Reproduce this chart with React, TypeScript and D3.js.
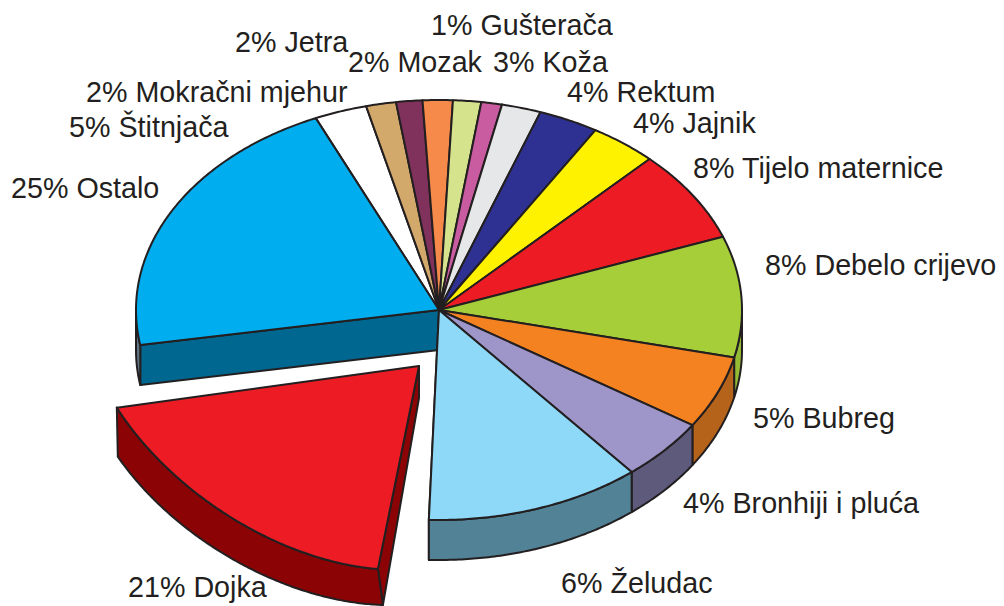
import React from 'react';
import * as d3 from 'd3';

// label texts as printed next to the pie
const categories = ['Ostalo', 'Štitnjača', 'Mokračni mjehur', 'Jetra', 'Mozak', 'Gušterača', 'Koža', 'Rektum',
  'Jajnik', 'Tijelo maternice', 'Debelo crijevo', 'Bubreg', 'Bronhiji i pluća', 'Želudac', 'Dojka'];
const labelPercents = [25, 5, 2, 2, 2, 1, 3, 4, 4, 8, 8, 5, 4, 6, 21];

// slice sizes as drawn (clockwise from the white slice next to Ostalo)
const sliceShares = [2.8, 1.6, 1.4, 1.6, 1.5, 1.1, 2.1, 3.2, 3.6, 7.1, 9.3, 5.6, 4.8, 11.5, 21.8, 21.0];
const sliceColors = ['#ffffff', '#d3a96b', '#80325c', '#f58a4b', '#d5e38d', '#c95ba1', '#e6e7e8', '#2e3192',
  '#fff200', '#ed1c24', '#a6ce39', '#f58220', '#9e96c9', '#8ed8f8', '#ed1c24', '#00aeef'];
const sideColors = ['#cccccc', '#a8844f', '#5e2242', '#c46a35', '#aab86c', '#9c4580', '#b8b9ba', '#1f2170',
  '#c9be00', '#a3141a', '#94bb33', '#b5621a', '#5e5a7c', '#528296', '#8b0304', '#5f7585'];
const explodedIndex = 14;
const cutFaceColor = '#006890';

// layout
const labelAnchors: [number, number][] = [[11, 198], [69, 137], [86, 102], [235, 52], [348, 72], [431, 35], [493, 72],
  [567, 102], [633, 133], [693, 178], [765, 275], [753, 428], [683, 513], [561, 593], [128, 597]];
const W = 1004, H = 606;
const cx = 439, cy = 310, rx = 303, ry = 210, depth = 40;
const startRad = -24 * Math.PI / 180;
// pulled-out slice: its tip, the affine map of its rim, and its (uneven) thickness
const exTip: [number, number] = [419, 366];
const exMap = { a: 0.6618, b: 0.0318, c: 0.4008, d: 0.87, e: 300.5, f: 386.7 };
const exDepth = { tip: 32, start: 36, end: 49, dxStart: 5, dxEnd: 1 };

const pt = (t: number): [number, number] => [cx + rx * Math.cos(t), cy + ry * Math.sin(t)];
const arcPts = (t0: number, t1: number) => {
  const n = Math.max(2, Math.ceil(Math.abs(t1 - t0) / 0.01));
  return d3.range(n + 1).map(i => pt(t0 + (t1 - t0) * i / n));
};
const down = (p: [number, number]): [number, number] => [p[0], p[1] + depth];
const poly = d3.line().curve(d3.curveLinearClosed);

const topPath = (t0: number, t1: number) => poly([[cx, cy], ...arcPts(t0, t1)]);
const rimPath = (t0: number, t1: number) => {
  const lo = Math.max(t0, 0), hi = Math.min(t1, Math.PI);
  if (lo >= hi) return null;
  const p = arcPts(lo, hi);
  return poly([...p, ...p.slice().reverse().map(down)]);
};
const cutPath = (t: number) => poly([[cx, cy], pt(t), down(pt(t)), [cx, cy + depth]]);

const explodedPaths = (t0: number, t1: number) => {
  const { a, b, c, d, e, f } = exMap;
  const arc = arcPts(t0, t1).map(([x, y]): [number, number] => {
    const u = x - cx, v = y - cy;
    return [e + a * u + c * v, f + b * u + d * v];
  });
  const n = arc.length - 1;
  const bottom = arc.map(([x, y], i): [number, number] => {
    const k = i / n;
    return [x + exDepth.dxStart + (exDepth.dxEnd - exDepth.dxStart) * k,
      y + exDepth.start + (exDepth.end - exDepth.start) * k];
  });
  return {
    cut: poly([exTip, arc[0], bottom[0], [exTip[0], exTip[1] + exDepth.tip]]),
    rim: poly([...arc, ...bottom.slice().reverse()]),
    top: poly([exTip, ...arc]),
  };
};

export default function App() {
  const arcs = d3.pie<number>().sort(null)
    .startAngle(startRad).endAngle(startRad + 2 * Math.PI)(sliceShares)
    .map((a, i) => ({ i, t0: a.startAngle - Math.PI / 2, t1: a.endAngle - Math.PI / 2 }));

  const stroke = { stroke: '#231f20', strokeWidth: 2, strokeLinejoin: 'round' as const };
  const main = arcs.filter(a => a.i !== explodedIndex);
  const ex = arcs[explodedIndex];
  const exP = explodedPaths(ex.t0, ex.t1);
  const ostalo = arcs[arcs.length - 1];
  const beforeEx = arcs[explodedIndex - 1];

  return (
    <svg width={W} height={H} style={{ position: 'absolute', left: 0, top: 0, background: '#fff' }}
      fontFamily="'Liberation Sans', Arial, Helvetica, sans-serif">
      {/* faces left open by the pulled-out slice */}
      <path d={cutPath(ostalo.t0)!} fill={cutFaceColor} {...stroke} />
      <path d={cutPath(beforeEx.t1)!} fill={sideColors[beforeEx.i]} {...stroke} />
      {main.map(a => {
        const d = rimPath(a.t0, a.t1);
        return d ? <path key={'r' + a.i} d={d} fill={sideColors[a.i]} {...stroke} /> : null;
      })}
      {main.map(a => (
        <path key={'t' + a.i} d={topPath(a.t0, a.t1)!} fill={sliceColors[a.i]} {...stroke} />
      ))}
      <g>
        <path d={exP.cut!} fill={sideColors[ex.i]} {...stroke} />
        <path d={exP.rim!} fill={sideColors[ex.i]} {...stroke} />
        <path d={exP.top!} fill={sliceColors[ex.i]} {...stroke} />
      </g>
      {categories.map((c, i) => (
        <text key={c} x={labelAnchors[i][0]} y={labelAnchors[i][1]} fontSize={28.7} fill="#231f20">
          {labelPercents[i]}% {c}
        </text>
      ))}
    </svg>
  );
}
